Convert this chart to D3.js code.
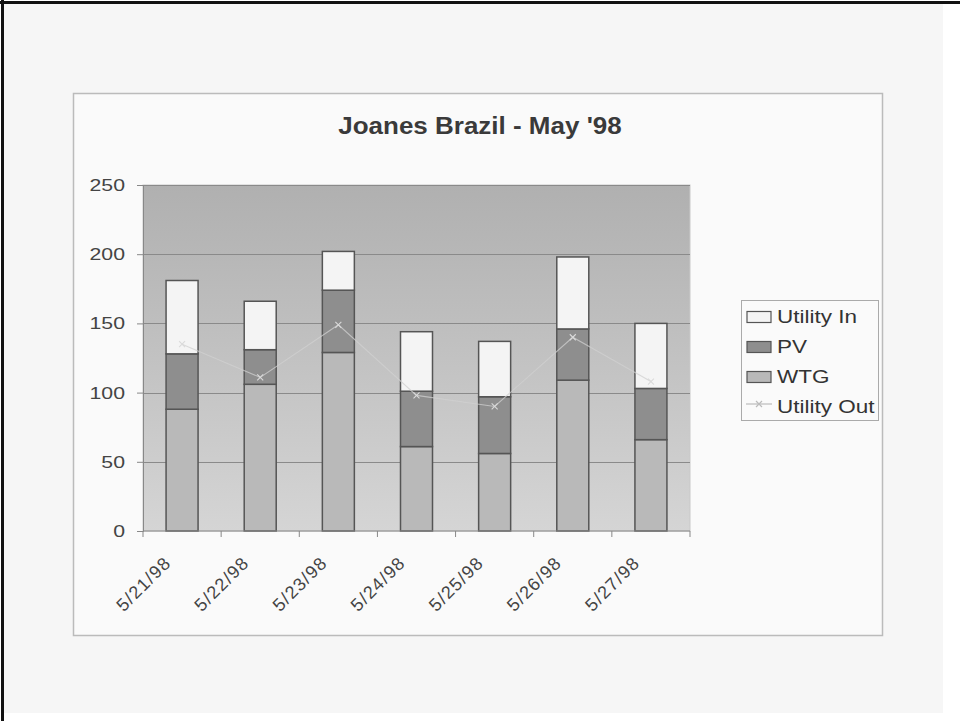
<!DOCTYPE html>
<html>
<head>
<meta charset="utf-8">
<script src="https://cdn.jsdelivr.net/npm/d3@7"></script>
<style>
  body { margin: 0; background: #fff; }
  svg { display: block; font-family: Arial, "Liberation Sans", sans-serif; }
</style>
</head>
<body>
<svg width="960" height="721"></svg>
<script>
/*
Chart values
 */
const categories = ["5/21/98", "5/22/98", "5/23/98", "5/24/98", "5/25/98", "5/26/98", "5/27/98"];
const wtg = [88, 106, 129, 61, 56, 109, 66];
const pv = [40, 25, 45, 40, 41, 37, 37];
const utilityIn = [53, 35, 28, 43, 40, 52, 47];
const utilityOut = [135, 111, 149, 98, 90, 140, 108];
const yTicks = [0, 50, 100, 150, 200, 250];
const seriesNames = ["Utility In", "PV", "WTG", "Utility Out"];

/*
Layout
 */
const plot = {left: 143, top: 185, right: 690, bottom: 531};
const stretch = 1.25;   // the scan is wider than plain Arial

var svg = d3.select("svg");

// scanned sheet + black frame
svg.append("rect").attr("x", 0).attr("y", 0).attr("width", 960).attr("height", 721).attr("fill", "#fff");
svg.append("rect").attr("x", 4).attr("y", 4).attr("width", 939).attr("height", 709).attr("fill", "#f6f6f6");
svg.append("line").attr("x1", 0).attr("x2", 960).attr("y1", 2.5).attr("y2", 2.5)
    .attr("stroke", "#111").attr("stroke-width", 3);
svg.append("line").attr("x1", 2.5).attr("x2", 2.5).attr("y1", 0).attr("y2", 721)
    .attr("stroke", "#111").attr("stroke-width", 3);

// chart box
svg.append("rect").attr("x", 73.5).attr("y", 93.5).attr("width", 809).attr("height", 542)
    .attr("fill", "#fafafa").attr("stroke", "#bbb").attr("stroke-width", 1.5);

svg.append("text")
    .attr("transform", "translate(480,134) scale(1.13,1)")
    .attr("text-anchor", "middle")
    .attr("font-size", 23).attr("font-weight", "bold").attr("fill", "#3a3a3a")
    .text("Joanes Brazil - May '98");

const x = d3.scaleBand().domain(categories).range([plot.left, plot.right]).paddingInner(0).paddingOuter(0);
const y = d3.scaleLinear().domain([0, 250]).range([plot.bottom, plot.top]);

// plot background gradient, darker at the top
var defs = svg.append("defs");
var grad = defs.append("linearGradient").attr("id", "bg").attr("x1", 0).attr("x2", 0).attr("y1", 0).attr("y2", 1);
grad.append("stop").attr("offset", "0%").attr("stop-color", "#b0b0b0");
grad.append("stop").attr("offset", "45%").attr("stop-color", "#c0c0c0");
grad.append("stop").attr("offset", "100%").attr("stop-color", "#d5d5d5");

svg.append("rect")
    .attr("x", plot.left).attr("y", plot.top)
    .attr("width", plot.right - plot.left).attr("height", plot.bottom - plot.top)
    .attr("fill", "url(#bg)").attr("stroke", "#c8c8c8");

// gridlines
svg.append("g").selectAll("line").data(yTicks.slice(1)).join("line")
    .attr("x1", plot.left).attr("x2", plot.right)
    .attr("y1", d => Math.round(y(d)) + 0.5).attr("y2", d => Math.round(y(d)) + 0.5)
    .attr("stroke", "#8a8a8a").attr("stroke-width", 1);

// stacked bars
const rows = categories.map((c, i) => ({cat: c, WTG: wtg[i], PV: pv[i], "Utility In": utilityIn[i]}));
const stack = d3.stack().keys(["WTG", "PV", "Utility In"]);
const stacked = stack(rows);
const fills = {"WTG": "#b9b9b9", "PV": "#8e8e8e", "Utility In": "#f4f4f4"};
const barW = 32;

svg.append("g").selectAll("g").data(stacked).join("g")
    .attr("fill", d => fills[d.key])
    .selectAll("rect").data(d => d).join("rect")
    .attr("x", d => x(d.data.cat) + x.bandwidth() / 2 - barW / 2)
    .attr("y", d => y(d[1]))
    .attr("width", barW)
    .attr("height", d => y(d[0]) - y(d[1]))
    .attr("stroke", "#555").attr("stroke-width", 1.5);

// Utility Out line (faint, with x markers)
const outPts = categories.map((c, i) => [x(c) + x.bandwidth() / 2, y(utilityOut[i])]);
svg.append("path")
    .attr("d", d3.line()(outPts))
    .attr("fill", "none").attr("stroke", "#d0d0d0").attr("stroke-opacity", 0.75).attr("stroke-width", 1.1);
svg.append("g").selectAll("path").data(outPts).join("path")
    .attr("d", d => `M${d[0]-3},${d[1]-3}L${d[0]+3},${d[1]+3}M${d[0]-3},${d[1]+3}L${d[0]+3},${d[1]-3}`)
    .attr("stroke", "#dadada").attr("stroke-width", 1.1);

// y axis
var yAxis = svg.append("g")
    .attr("transform", `translate(${plot.left},0)`)
    .call(d3.axisLeft(y).tickValues(yTicks).tickSize(6).tickPadding(12));
yAxis.select(".domain").attr("stroke", "#888");
yAxis.selectAll(".tick line").attr("stroke", "#888");
yAxis.selectAll("text")
    .attr("x", 0)
    .attr("transform", `translate(-18,0) scale(${stretch},1)`)
    .attr("font-size", 17).attr("fill", "#444")
    .attr("font-family", "Arial, 'Liberation Sans', sans-serif");

// x axis: ticks sit on band boundaries
var xAxis = svg.append("g").attr("transform", `translate(0,${plot.bottom})`);
xAxis.append("line").attr("x1", plot.left).attr("x2", plot.right).attr("stroke", "#888");
xAxis.selectAll("line.tk").data(categories.concat(["end"])).join("line")
    .attr("class", "tk")
    .attr("x1", (d, i) => plot.left + i * x.bandwidth()).attr("x2", (d, i) => plot.left + i * x.bandwidth())
    .attr("y1", 0).attr("y2", 6).attr("stroke", "#888");
xAxis.selectAll("text").data(categories).join("text")
    .attr("transform", d => `translate(${x(d) + x.bandwidth() / 2 - 10},${33}) rotate(-45)`)
    .attr("text-anchor", "end")
    .attr("font-size", 18).attr("letter-spacing", 1.2).attr("fill", "#444")
    .text(d => d);

// legend
var legend = svg.append("g");
legend.append("rect").attr("x", 741.5).attr("y", 300.5).attr("width", 137).attr("height", 120)
    .attr("fill", "#fafafa").attr("stroke", "#aaa");
const legendFills = ["#f4f4f4", "#8e8e8e", "#b9b9b9"];
seriesNames.forEach(function(name, i) {
    var ly = 317 + i * 30;
    if (i < 3) {
        legend.append("rect").attr("x", 747).attr("y", ly - 5.5).attr("width", 24).attr("height", 11)
            .attr("fill", legendFills[i]).attr("stroke", "#555").attr("stroke-width", 1.2);
    } else {
        legend.append("line").attr("x1", 746).attr("x2", 772).attr("y1", ly - 3).attr("y2", ly - 3)
            .attr("stroke", "#bbb").attr("stroke-width", 1.2);
        legend.append("path")
            .attr("d", `M756,${ly-6}L762,${ly}M756,${ly}L762,${ly-6}`)
            .attr("stroke", "#bbb").attr("stroke-width", 1.2);
    }
    legend.append("text")
        .attr("transform", `translate(777,${ly + 6}) scale(${stretch},1)`)
        .attr("font-size", 18).attr("fill", "#333").text(name);
});
</script>
</body>
</html>
